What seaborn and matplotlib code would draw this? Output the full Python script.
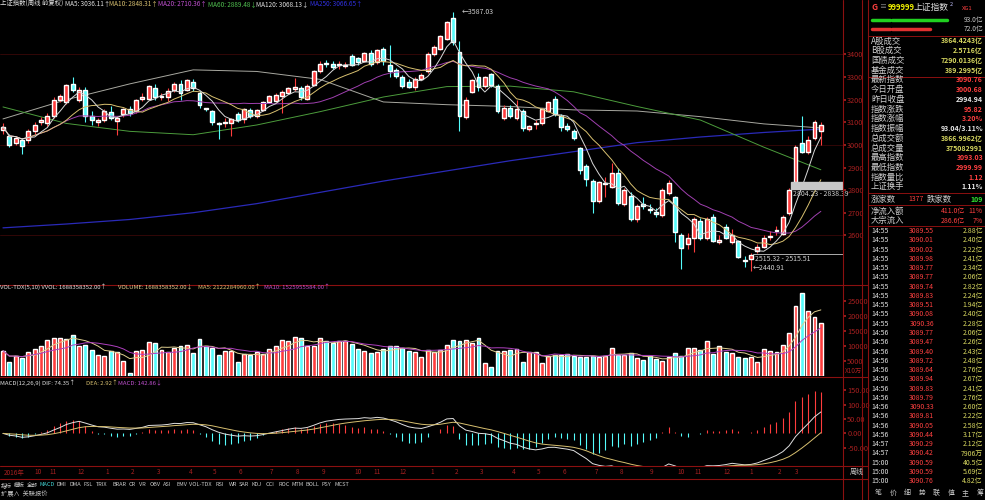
import numpy as np
import pandas as pd
import matplotlib
matplotlib.use("Agg")
import matplotlib.pyplot as plt
import seaborn as sns

# ---------------- data ----------------
# weekly candles: (color, body_top, body_bottom, high, low)  r = up, c = down
candles = [
("r",3080,3065,3095,3050),("c",3040,3000,3050,2990),("r",3030,3010,3040,3000),("c",3020,2995,3030,2960),
("r",3060,3020,3070,3010),("r",3090,3060,3100,3050),("r",3110,3100,3125,3090),("r",3130,3095,3140,3085),
("r",3200,3130,3210,3120),("r",3215,3200,3225,3190),("r",3265,3190,3270,3180),("c",3270,3245,3300,3235),
("r",3245,3200,3255,3190),("c",3245,3130,3255,3100),("c",3130,3110,3150,3090),("r",3108,3100,3120,3085),
("r",3150,3110,3160,3100),("c",3145,3120,3170,3110),("r",3120,3105,3130,3045),("r",3160,3135,3165,3125),
("c",3160,3140,3170,3130),("r",3200,3150,3205,3140),("r",3212,3205,3230,3195),("r",3260,3205,3265,3200),
("c",3250,3210,3270,3200),("r",3218,3212,3230,3200),("r",3240,3210,3250,3195),("r",3270,3245,3280,3235),
("c",3270,3230,3285,3200),("r",3285,3245,3290,3240),("c",3280,3250,3290,3240),("c",3230,3175,3240,3165),
("c",3162,3158,3165,3150),("c",3150,3100,3155,3090),("c",3098,3094,3100,3025),("r",3102,3098,3120,3080),
("r",3115,3095,3120,3040),("c",3135,3110,3145,3100),("r",3160,3115,3165,3095),("c",3155,3130,3165,3120),
("r",3155,3130,3160,3120),("r",3190,3155,3195,3150),("r",3215,3190,3220,3185),("r",3220,3195,3230,3190),
("r",3235,3215,3245,3140),("r",3250,3230,3255,3225),("r",3254,3248,3295,3240),("c",3250,3210,3260,3200),
("r",3260,3205,3270,3200),("r",3325,3265,3330,3260),("r",3360,3325,3370,3320),("c",3362,3358,3375,3345),
("c",3360,3345,3370,3335),("r",3358,3352,3370,3335),("r",3352,3348,3365,3340),("c",3395,3355,3400,3350),
("c",3385,3365,3390,3355),("r",3405,3370,3410,3365),("c",3405,3360,3420,3350),("r",3420,3365,3425,3360),
("c",3425,3370,3435,3355),("c",3355,3325,3440,3300),("c",3330,3305,3340,3295),("c",3300,3260,3310,3250),
("c",3280,3255,3290,3250),("r",3290,3255,3300,3245),("r",3310,3290,3320,3285),("r",3400,3325,3410,3320),
("r",3435,3400,3440,3395),("r",3480,3425,3485,3420),("r",3545,3470,3550,3465),("c",3560,3455,3587,3440),
("c",3410,3130,3460,3060),("r",3200,3125,3210,3115),("r",3285,3235,3290,3230),("c",3300,3255,3320,3240),
("r",3300,3260,3305,3250),("c",3315,3265,3320,3255),("c",3260,3150,3270,3140),("r",3165,3120,3175,3110),
("c",3165,3130,3175,3120),("r",3160,3120,3200,3110),("c",3150,3075,3160,3060),("r",3085,3070,3090,3060),
("r",3097,3093,3110,3070),("r",3160,3095,3165,3090),("r",3190,3150,3195,3145),("c",3205,3135,3215,3130),
("c",3130,3080,3135,3060),("c",3085,3070,3095,3060),("c",3060,3030,3070,3020),("c",2985,2890,2990,2870),
("c",2905,2850,2915,2820),("c",2840,2750,2850,2700),("r",2835,2750,2840,2745),("r",2832,2826,2860,2770),
("r",2875,2815,2920,2810),("c",2875,2745,2900,2735),("r",2800,2740,2810,2730),("c",2775,2670,2790,2665),
("r",2730,2670,2740,2660),("c",2737,2730,2770,2715),("c",2718,2712,2740,2700),("c",2702,2696,2720,2680),
("r",2800,2690,2810,2680),("r",2830,2785,2845,2780),("c",2770,2615,2775,2570),("c",2600,2545,2610,2449),
("r",2590,2560,2610,2540),("r",2670,2590,2680,2525),("c",2665,2590,2675,2580),("r",2670,2590,2680,2580),
("c",2680,2575,2695,2570),("r",2578,2572,2600,2560),("c",2635,2590,2650,2585),("r",2600,2570,2630,2560),
("c",2575,2505,2580,2500),("c",2492,2488,2510,2460),("r",2515,2495,2520,2441),("r",2550,2530,2560,2520),
("r",2590,2550,2600,2545),("r",2598,2592,2620,2580),("r",2622,2618,2640,2600),("r",2680,2605,2690,2600),
("r",2800,2700,2810,2690),("r",2990,2835,3000,2830),("c",3010,2970,3130,2965),("r",3020,2970,3040,2960),
("r",3100,3030,3110,3020),("r",3090,3060,3100,3000),
]
volumes = [8400,4800,6600,5900,8100,8900,10000,12000,12500,12500,
12200,13700,9800,10300,8700,7000,6700,8400,7800,5000,
900,8400,8600,11200,10900,8700,8100,9200,9800,10300,
7500,12200,9800,9200,7000,8400,8400,4800,7300,7000,
8100,7300,8900,9800,12000,11500,12900,12500,9800,9800,
12700,11700,11000,11500,11500,10700,9000,8300,7500,7800,
8900,10000,9800,9400,8300,8100,6400,8700,7800,8700,
10300,12000,11500,12000,11100,12500,4200,2900,8400,8400,
8700,8900,4800,8100,7800,4200,6700,7000,6800,7300,
6700,6400,6400,6700,6400,6700,9200,7000,7000,7500,
5900,5300,6500,5600,5100,6200,7500,6700,9200,9200,
8700,11500,7300,10000,8100,7500,6400,6100,6200,4500,
8900,8300,7900,10300,14400,23300,27500,21700,19500,17500]
ma_idx = [0,10,20,30,40,50,60,70,80,90,100,110,120,129]
ma60_s  = [3168,3095,3060,3045,3088,3147,3212,3258,3260,3235,3170,3110,2990,2890]
ma120_s = [3115,3200,3270,3332,3325,3290,3190,3178,3170,3155,3150,3125,3093,3075]
ma250_s = [2633,2650,2670,2700,2740,2790,2840,2885,2930,2970,3010,3035,3055,3070]
month_labels = ["2016年","10","11","12","1","2","3","4","5","6","7","8","9","10","11","12",
                "1","2","3","4","5","6","7","8","9","10","11","12","1","2","3"]
month_pos = [0.2,4.9,7.4,11.8,16.1,20.2,24.3,29.3,33.1,37.1,42.1,46.2,50.3,55.5,58.4,62.6,
             67.4,71.3,75.2,80.3,84.2,88.3,93.3,97.3,102,106.3,109.1,113.6,117.8,122.2,124.9]

panel_rows = [("A股成交","3864.4243亿","#d8d860"),("B股成交","2.5716亿","#d8d860"),
("国债成交","7290.0136亿","#d8d860"),("基金成交","389.2995亿","#d8d860"),
("最新指数","3090.76","#ff4040"),("今日开盘","3000.68","#ff4040"),("昨日收盘","2994.94","#e8e8e8"),
("指数涨跌","95.82","#ff4040"),("指数涨幅","3.20%","#ff4040"),("指数振幅","93.04/3.11%","#e8e8e8"),
("总成交额","3866.9962亿","#d8d860"),("总成交量","375082991","#d8d860"),("最高指数","3093.03","#ff4040"),
("最低指数","2999.99","#ff4040"),("指数量比","1.12","#ff4040"),("上证换手","1.11%","#e8e8e8")]
tick_times = ["14:55"]*11 + ["14:56"]*12 + ["14:57"]*2 + ["15:00"]*3
tick_prices = ["3089.55","3090.01","3090.02","3089.98","3089.77","3089.77","3089.74","3089.83","3089.51",
"3090.08","3090.36","3089.77","3089.47","3089.40","3089.72","3089.64","3089.94","3089.83","3089.79",
"3090.33","3089.81","3090.05","3090.44","3090.29","3090.42","3090.59","3090.59","3090.76"]
tick_amounts = ["2.88亿","2.40亿","2.22亿","2.41亿","2.34亿","2.06亿","2.82亿","2.24亿","1.94亿","2.40亿",
"2.28亿","2.06亿","2.26亿","2.43亿","2.48亿","2.76亿","2.67亿","2.41亿","2.76亿","2.60亿","2.22亿",
"2.58亿","3.17亿","2.12亿","7906万","40.5亿","5.69亿","4.82亿"]

# ---------------- derived ----------------
n = len(candles)
df = pd.DataFrame(candles, columns=["col","top","bot","high","low"])
df["x"] = np.arange(n)
df["open"] = np.where(df.col == "r", df.bot, df.top)
df["close"] = np.where(df.col == "r", df.top, df.bot)
df["vol"] = volumes
for w in (5, 10, 20):
    df[f"ma{w}"] = df.close.rolling(w, min_periods=1).mean()
df["vma5"] = df.vol.rolling(5, min_periods=1).mean()
df["vma10"] = df.vol.rolling(10, min_periods=1).mean()
ema12 = df.close.ewm(span=12, adjust=False).mean()
ema26 = df.close.ewm(span=26, adjust=False).mean()
df["dif"] = ema12 - ema26
df["dea"] = df.dif.ewm(span=9, adjust=False).mean()
df["macd"] = 2 * (df.dif - df.dea)

RED = "#ff3c3c"; CYAN = "#54fcfc"; DR = "#8b1010"; AX = "#a82020"
colors = np.where(df.col == "r", RED, CYAN)

sns.set_theme(style="dark")
plt.rcParams["font.family"] = ["Noto Sans CJK SC", "DejaVu Sans"]
plt.rcParams["axes.unicode_minus"] = False

W, H = 985, 500
fig = plt.figure(figsize=(W/100, H/100), dpi=100, facecolor="black")

def add_ax(x, y, w, h):
    a = fig.add_axes([x/W, 1-(y+h)/H, w/W, h/H])
    a.set_facecolor("black")
    for s in a.spines.values():
        s.set_visible(False)
    a.grid(False)
    return a

PW = 843
XL = (-0.47, (PW - 3) / 6.34)

def style_right(a, ticks, fmt):
    a.yaxis.tick_right()
    a.set_yticks(ticks)
    a.set_yticklabels([fmt(t) for t in ticks], color=AX, fontsize=5.3)
    a.tick_params(axis="y", length=2, color=AX, pad=1)
    a.set_xticks([])
    a.set_xlim(*XL)

# ---------------- main price panel ----------------
ax = add_ax(0, 5, PW, 278)
ax.set_ylim(2389, 3619)
for lv in (3400, 3000, 2600):
    ax.axhline(lv, color="#3a0808", lw=0.6, zorder=0)
ax.vlines(df.x, df.low, df.high, colors=colors, lw=0.8, zorder=2)
ax.bar(df.x, (df.top - df.bot).clip(lower=4), bottom=df.bot, width=0.62, color=colors, zorder=3)
sns.lineplot(x=ma_idx, y=ma250_s, ax=ax, color="#2a2ab8", lw=0.9, zorder=1)
sns.lineplot(x=ma_idx, y=ma120_s, ax=ax, color="#a8a8a0", lw=0.7, zorder=1)
sns.lineplot(x=ma_idx, y=ma60_s, ax=ax, color="#4c9c3c", lw=0.7, zorder=1)
sns.lineplot(data=df, x="x", y="ma20", ax=ax, color="#a040b0", lw=0.7, zorder=4)
sns.lineplot(data=df, x="x", y="ma10", ax=ax, color="#d8c070", lw=0.7, zorder=4)
sns.lineplot(data=df, x="x", y="ma5", ax=ax, color="#d8d8d8", lw=0.7, zorder=4)
style_right(ax, list(range(2600, 3500, 100)), lambda t: f"{t}")
ax.set_xlabel(""); ax.set_ylabel("")
ax.add_patch(plt.Rectangle((124.3, 2804), XL[1] - 124.3, 34, color="#c8c8c8", zorder=5))
ax.axhline(2515.5, xmin=(118.3 - XL[0]) / (XL[1] - XL[0]), xmax=1, color="#c8c8c8", lw=0.6)
ax.text(72.3, 3587, "←3587.03", color="#d0d0d0", fontsize=5, va="center")
ax.text(118.6, 2493, "2515.32 - 2515.51", color="#d0d0d0", fontsize=5, va="center")
ax.text(118.3, 2455, "←2440.91", color="#d0d0d0", fontsize=5, va="center")
ax.text(124.6, 2783, "2804.23 - 2838.39", color="#d0d0d0", fontsize=5, va="center", zorder=6)

def title_row(y, parts, fs=4.6):
    for x, s, c in parts:
        fig.text(x/W, 1-y/H, s, color=c, fontsize=fs, va="center", ha="left")

title_row(4, [(0, "上证指数(周线 前复权)", "#e0e0e0"), (65, "MA5: 3036.11↑", "#e0e0e0"),
              (109, "MA10: 2848.31↑", "#d8c070"), (158, "MA20: 2710.36↑", "#c050d0"),
              (208, "MA60: 2889.48↓", "#50c050"), (256, "MA120: 3068.13↓", "#e0e0e0"),
              (310, "MA250: 3066.65↑", "#3030e0")])

# ---------------- volume panel ----------------
vax = add_ax(0, 290, PW, 86)
vax.bar(df.x, df.vol, width=0.62, color=colors)
sns.lineplot(data=df, x="x", y="vma5", ax=vax, color="#e0d090", lw=0.7)
sns.lineplot(data=df, x="x", y="vma10", ax=vax, color="#b040c0", lw=0.7)
vax.set_ylim(0, 28500)
style_right(vax, [5000, 10000, 15000, 20000, 25000], lambda t: f"{t}")
vax.set_xlabel(""); vax.set_ylabel("")
fig.text(845/W, 1-371/H, "X10万", color=AX, fontsize=4.6, va="center")
title_row(287, [(0, "VOL-TDX(5,10) VVOL: 1688358352.00↑", "#e0e0e0"),
                (118, "VOLUME: 1688358352.00↓", "#e0d090"),
                (198, "MA5: 2122284960.00↑", "#d8c070"),
                (264, "MA10: 1525955584.00↑", "#c050d0")], fs=4.3)

# ---------------- MACD panel ----------------
max_ = add_ax(0, 380, PW, 86)
mcol = np.where(df.macd >= 0, RED, CYAN)
max_.vlines(df.x, 0, df.macd, colors=mcol, lw=0.8)
sns.lineplot(data=df, x="x", y="dif", ax=max_, color="#e0e0e0", lw=0.7)
sns.lineplot(data=df, x="x", y="dea", ax=max_, color="#d8c070", lw=0.7)
max_.set_ylim(-113, 185)
style_right(max_, [-50, 0, 50, 100, 150], lambda t: f"{t:.2f}")
max_.set_xlabel(""); max_.set_ylabel("")
title_row(383, [(0, "MACD(12,26,9) DIF: 74.35↑", "#e0e0e0"), (86, "DEA: 2.92↑", "#d8c070"),
                (118, "MACD: 142.86↓", "#c050d0")], fs=4.3)

# ---------------- date axis + button bar ----------------
dax = add_ax(0, 467, PW, 11)
dax.set_xlim(*XL); dax.set_ylim(0, 1); dax.set_xticks([]); dax.set_yticks([])
for p, s in zip(month_pos, month_labels):
    dax.text(p, 0.5, s, color=AX, fontsize=4.6, va="center", ha="left")
fig.text(850/W, 1-472/H, "周线", color="#d0d0d0", fontsize=5, va="center")
btns = ["指标","模板","全部","MACD","DMI","DMA","FSL","TRIX","BRAR","CR","VR","OBV","ASI","EMV",
        "VOL-TDX","RSI","WR","SAR","KDJ","CCI","ROC","MTM","BOLL","PSY","MCST"]
bx = 1
for b in btns:
    fig.text(bx/W, 1-485/H, b, color="#40d0d0" if b == "MACD" else "#c8c8c8", fontsize=4, va="center")
    bx += 13 if b[0] > "~" else 4 + 3.1 * len(b)
fig.text(1/W, 1-494/H, "扩展∧  关联报价", color="#c8c8c8", fontsize=4.5, va="center")

# separators
for y in (285, 377, 466, 479):
    fig.add_artist(plt.Line2D([0, 868/W], [1-y/H, 1-y/H], color=DR, lw=0.8))
for x in (PW, 862, 868):
    fig.add_artist(plt.Line2D([x/W, x/W], [0, 1], color=DR, lw=0.8))

# ---------------- right info panel ----------------
fig.text(871/W, 1-7/H, "G", color="#ff4040", fontsize=6, va="center", weight="bold")
fig.text(879/W, 1-7/H, "≡", color="#808080", fontsize=5, va="center")
fig.text(888/W, 1-7/H, "999999", color="#f0f000", fontsize=5.5, va="center", weight="bold")
fig.text(914/W, 1-7/H, "上证指数", color="#e0e0e0", fontsize=6.3, va="center")
fig.text(950/W, 1-4/H, "2", color="#c0c0ff", fontsize=4, va="center")
fig.text(962/W, 1-8/H, "XG1", color="#ff4040", fontsize=4.2, va="center")
fig.add_artist(plt.Line2D([872/W, 890/W], [1-20/H]*2, color="#20d020", lw=2.5))
fig.add_artist(plt.Line2D([892/W, 947/W], [1-20/H]*2, color="#20d020", lw=2.5))
fig.add_artist(plt.Line2D([872/W, 890/W], [1-29/H]*2, color="#e03030", lw=2.5))
fig.add_artist(plt.Line2D([892/W, 930/W], [1-29/H]*2, color="#e03030", lw=2.5))
fig.text(983/W, 1-20/H, "93.0亿", color="#c8c8c8", fontsize=4.8, va="center", ha="right")
fig.text(983/W, 1-29/H, "72.0亿", color="#c8c8c8", fontsize=4.8, va="center", ha="right")
for i, (lab, val, c) in enumerate(panel_rows):
    y = 41 + i * 9.73
    fig.text(871/W, 1-y/H, lab, color="#d0d0d0", fontsize=6, va="center")
    fig.text(983/W, 1-y/H, val, color=c, fontsize=5, va="center", ha="right", weight="bold")
for y in (36, 77, 193, 205, 226):
    fig.add_artist(plt.Line2D([868/W, 1], [1-y/H]*2, color=DR, lw=0.7))
fig.text(871/W, 1-199/H, "涨家数", color="#d0d0d0", fontsize=6, va="center")
fig.text(908/W, 1-199/H, "1377", color="#ff4040", fontsize=5, va="center")
fig.text(927/W, 1-199/H, "跌家数", color="#d0d0d0", fontsize=6, va="center")
fig.text(983/W, 1-199/H, "109", color="#30e030", fontsize=5, va="center", ha="right", weight="bold")
fig.text(871/W, 1-211/H, "净流入额", color="#d0d0d0", fontsize=6, va="center")
fig.text(965/W, 1-211/H, "411.0亿", color="#ff4040", fontsize=5, va="center", ha="right")
fig.text(983/W, 1-211/H, "11%", color="#ff4040", fontsize=5, va="center", ha="right")
fig.text(871/W, 1-220.5/H, "大宗流入", color="#d0d0d0", fontsize=6, va="center")
fig.text(965/W, 1-220.5/H, "286.6亿", color="#ff4040", fontsize=5, va="center", ha="right")
fig.text(983/W, 1-220.5/H, "7%", color="#ff4040", fontsize=5, va="center", ha="right")
for i, (t, p, a) in enumerate(zip(tick_times, tick_prices, tick_amounts)):
    y = 231 + i * 9.27
    fig.text(871/W, 1-y/H, t, color="#e0e0e0", fontsize=5, va="center")
    fig.text(934/W, 1-y/H, p, color="#ff4040", fontsize=5, va="center", ha="right")
    fig.text(983/W, 1-y/H, a, color="#d8d860", fontsize=5, va="center", ha="right")
for i, s in enumerate(["笔", "价", "细", "势", "联", "值", "主", "筹"]):
    fig.text((875 + i * 14.5)/W, 1-493/H, s, color="#c8c8c8", fontsize=5, va="center")

fig.savefig("out.png", dpi=100, facecolor="black")
